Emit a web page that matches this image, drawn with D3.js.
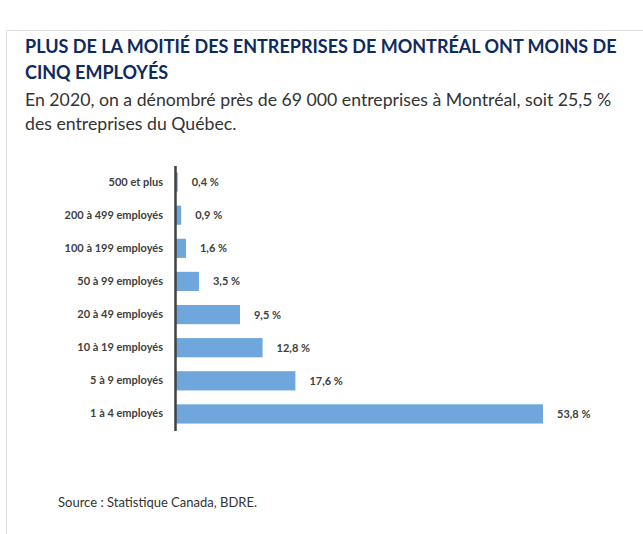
<!DOCTYPE html>
<html><head><meta charset="utf-8">
<script src="https://cdn.jsdelivr.net/npm/d3@7"></script>
<style>body{margin:0;background:#fff}</style></head>
<body><svg id="c" width="643" height="534"></svg>
<script>
const categories = ["500 et plus","200 à 499 employés","100 à 199 employés","50 à 99 employés","20 à 49 employés","10 à 19 employés","5 à 9 employés","1 à 4 employés"];
const values = [0.4,0.9,1.6,3.5,9.5,12.8,17.6,53.8];
const valueLabels = ["0,4 %","0,9 %","1,6 %","3,5 %","9,5 %","12,8 %","17,6 %","53,8 %"];

const svg = d3.select("#c");
const font = "Lato, 'Open Sans', sans-serif";
svg.append("rect").attr("x",6.5).attr("y",30.5).attr("width",650).attr("height",520)
  .attr("fill","#fff").attr("stroke","#e3e3e3");
svg.append("text").attr("x",25).attr("y",53).attr("font-family",font).attr("font-weight",700)
  .attr("font-size",18).attr("fill","#0e2a5e").text("PLUS DE LA MOITIÉ DES ENTREPRISES DE MONTRÉAL ONT MOINS DE");
svg.append("text").attr("x",25).attr("y",79).attr("font-family",font).attr("font-weight",700)
  .attr("font-size",18).attr("fill","#0e2a5e").text("CINQ EMPLOYÉS");
svg.append("text").attr("x",25).attr("y",106).attr("font-family",font)
  .attr("font-size",17.7).attr("fill","#333").text("En 2020, on a dénombré près de 69 000 entreprises à Montréal, soit 25,5 %");
svg.append("text").attr("x",25).attr("y",130).attr("font-family",font)
  .attr("font-size",17.7).attr("fill","#333").text("des entreprises du Québec.");

const x = d3.scaleLinear().domain([0,53.8]).range([175,543]);
const y = d3.scaleBand().domain(categories).range([165.5,430.5]).paddingInner(0.42).paddingOuter(0.21);

svg.selectAll("rect.bar").data(values).join("rect").attr("class","bar")
  .attr("x",x(0)).attr("y",(d,i)=>y(categories[i])).attr("height",y.bandwidth())
  .attr("width",d=>x(d)-x(0)).attr("fill","#6fa6db");
svg.selectAll("text.v").data(values).join("text").attr("class","v")
  .attr("x",d=>x(d)+14).attr("y",(d,i)=>y(categories[i])+y.bandwidth()/2+4)
  .attr("font-family",font).attr("font-weight",700).attr("font-size",11).attr("fill","#404040")
  .text((d,i)=>valueLabels[i]);

const ax = svg.append("g").attr("transform",`translate(${x(0)},0)`)
  .call(d3.axisLeft(y).tickSize(0).tickPadding(12));
ax.select(".domain").attr("stroke","#404040").attr("stroke-width",2.5);
ax.selectAll("text").attr("font-family",font).attr("font-weight",700).attr("font-size",11).attr("fill","#404040");

svg.append("text").attr("x",58).attr("y",507).attr("font-family",font)
  .attr("font-size",13).attr("fill","#333").text("Source : Statistique Canada, BDRE.");
</script></body></html>
